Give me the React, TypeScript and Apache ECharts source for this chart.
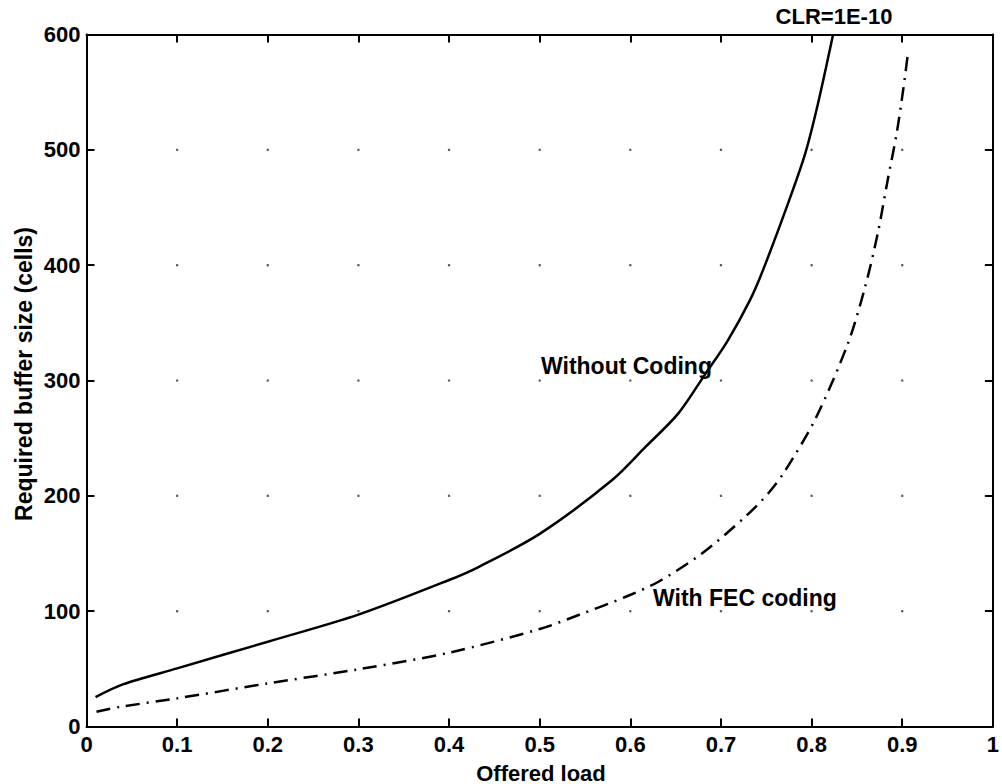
import React, { useEffect, useRef } from "react";
import * as echarts from "echarts";

// Solid curve: "Without Coding"
const withoutCodingLoad = [0.01, 0.04, 0.1, 0.2, 0.3, 0.4, 0.433, 0.5, 0.58, 0.617, 0.653, 0.683, 0.707, 0.732, 0.747, 0.774, 0.793, 0.807, 0.8237];
const withoutCodingBuffer = [25.5, 36.5, 50.4, 73.5, 97, 127, 138.5, 167, 213.7, 242.6, 271.5, 306, 334, 369.7, 397, 453.6, 497, 540, 600];

// Dash-dot curve: "With FEC coding"
const withFecLoad = [0.011, 0.037, 0.1, 0.2, 0.3, 0.4, 0.5, 0.543, 0.595, 0.631, 0.679, 0.727, 0.752, 0.771, 0.805, 0.84, 0.859, 0.873, 0.884, 0.894, 0.901, 0.906];
const withFecBuffer = [12.8, 17, 24.4, 37.4, 49.6, 64, 84.5, 96.7, 112.5, 125.5, 150, 182, 202, 222, 268, 332, 381, 427.6, 474, 515, 551.8, 582];

// Grid intersection ticks (MATLAB dotted grid, visible only as dots)
const gridLoadTicks = [0.1, 0.2, 0.3, 0.4, 0.5, 0.6, 0.7, 0.8, 0.9];
const gridBufferTicks = [100, 200, 300, 400, 500];

const FONT = '"Liberation Sans", Arial, Helvetica, sans-serif';

export default function App() {
  const ref = useRef<HTMLDivElement>(null);

  useEffect(() => {
    document.body.style.margin = "0";
    const chart = echarts.init(ref.current!, undefined, { renderer: "svg" });

    const solidData = withoutCodingLoad.map((x, i) => [x, withoutCodingBuffer[i]]);
    const fecData = withFecLoad.map((x, i) => [x, withFecBuffer[i]]);
    const gridDots: number[][] = [];
    gridLoadTicks.forEach((x) => gridBufferTicks.forEach((y) => gridDots.push([x, y])));

    const axisLine = { show: true, onZero: false, lineStyle: { color: "#000", width: 2 } };
    const axisTick = { show: true, inside: true, length: 8, lineStyle: { color: "#000", width: 2 } };
    const labelStyle = { color: "#000", fontFamily: FONT, fontSize: 22, fontWeight: "bold" };

    chart.setOption({
      animation: false,
      backgroundColor: "#fff",
      grid: { left: 86.5, right: 7, top: 34.5, bottom: 57.5, containLabel: false },
      xAxis: [
        {
          type: "value",
          min: 0,
          max: 1,
          interval: 0.1,
          position: "bottom",
          axisLine,
          axisTick,
          splitLine: { show: false },
          axisLabel: { ...labelStyle, margin: 7 },
        },
        {
          type: "value",
          min: 0,
          max: 1,
          interval: 0.1,
          position: "top",
          axisLine,
          axisTick,
          splitLine: { show: false },
          axisLabel: { show: false },
        },
      ],
      yAxis: [
        {
          type: "value",
          min: 0,
          max: 600,
          interval: 100,
          position: "left",
          axisLine,
          axisTick,
          splitLine: { show: false },
          axisLabel: { ...labelStyle, margin: 6 },
        },
        {
          type: "value",
          min: 0,
          max: 600,
          interval: 100,
          position: "right",
          axisLine,
          axisTick,
          splitLine: { show: false },
          axisLabel: { show: false },
        },
      ],
      series: [
        {
          type: "scatter",
          data: gridDots,
          symbol: "circle",
          symbolSize: 2.5,
          itemStyle: { color: "#333" },
          silent: true,
          z: 1,
        },
        {
          name: "Without Coding",
          type: "line",
          data: solidData,
          showSymbol: false,
          smooth: 0.3,
          lineStyle: { color: "#000", width: 2.5, type: "solid" },
          z: 3,
        },
        {
          name: "With FEC coding",
          type: "line",
          data: fecData,
          showSymbol: false,
          smooth: 0.3,
          lineStyle: { color: "#000", width: 2.5, type: [14, 7, 2, 7] },
          z: 3,
        },
      ],
      graphic: [
        {
          type: "text",
          x: 834,
          y: 16,
          style: { text: "CLR=1E-10", fontFamily: FONT, fontSize: 22, fontWeight: "bold", fill: "#000", align: "center", verticalAlign: "middle" },
        },
        {
          type: "text",
          x: 541,
          y: 366,
          style: { text: "Without Coding", fontFamily: FONT, fontSize: 23, fontWeight: "bold", fill: "#000", align: "left", verticalAlign: "middle" },
        },
        {
          type: "text",
          x: 653,
          y: 598,
          style: { text: "With FEC coding", fontFamily: FONT, fontSize: 23, fontWeight: "bold", fill: "#000", align: "left", verticalAlign: "middle" },
        },
        {
          type: "text",
          x: 541,
          y: 773,
          style: { text: "Offered load", fontFamily: FONT, fontSize: 22, fontWeight: "bold", fill: "#000", align: "center", verticalAlign: "middle" },
        },
        {
          type: "text",
          x: 24,
          y: 374,
          rotation: Math.PI / 2,
          style: { text: "Required buffer size (cells)", fontFamily: FONT, fontSize: 23, fontWeight: "bold", fill: "#000", align: "center", verticalAlign: "middle" },
        },
      ],
    });

    return () => chart.dispose();
  }, []);

  return <div ref={ref} style={{ width: 1002, height: 784 }} />;
}
